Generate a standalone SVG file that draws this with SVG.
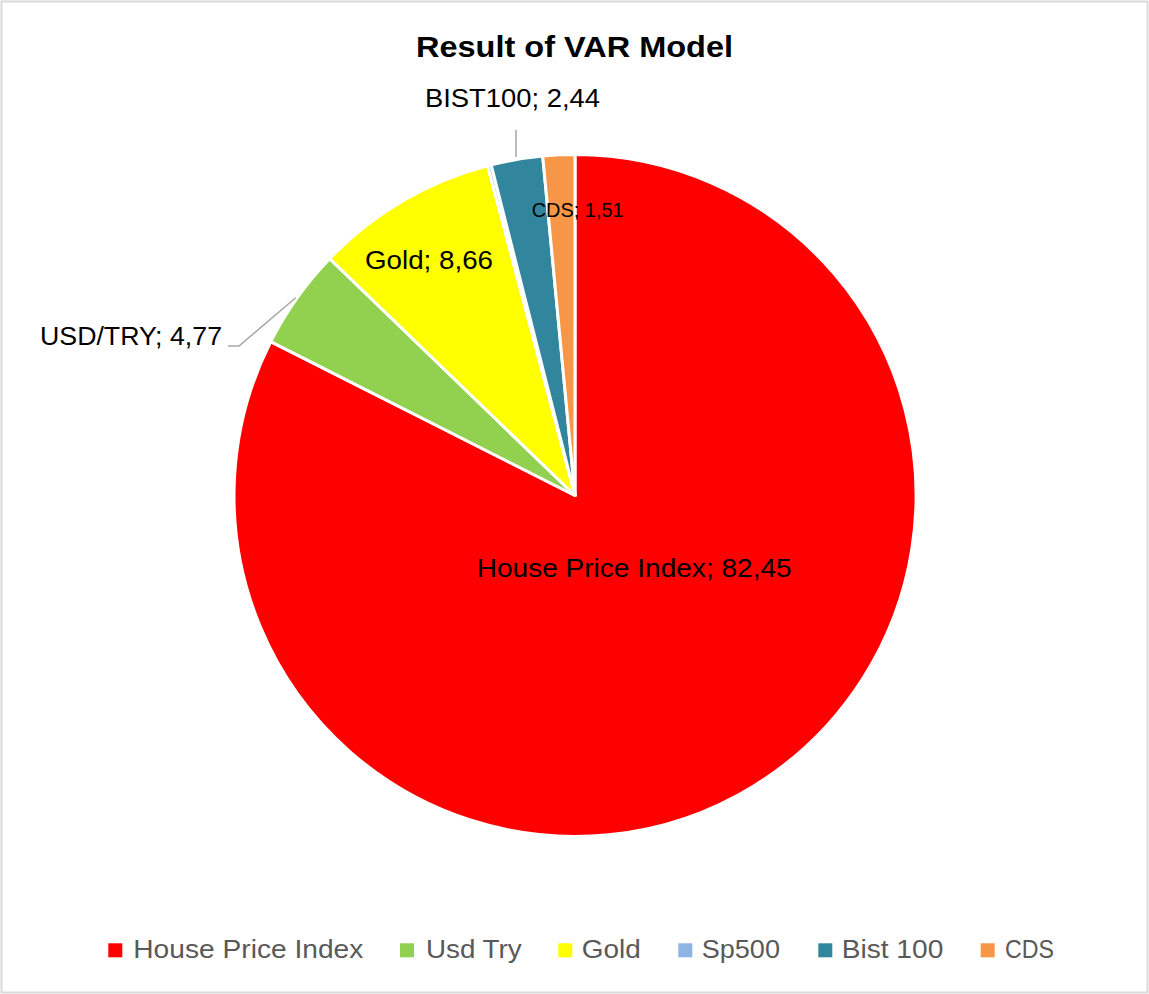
<svg xmlns="http://www.w3.org/2000/svg" width="1149" height="994" viewBox="0 0 1149 994">
<style>
.slice{stroke:#ffffff;stroke-width:3;stroke-linejoin:round}
.lbl{font-family:"Liberation Sans",Arial,sans-serif;fill:#000000}
.leg{font-family:"Liberation Sans",Arial,sans-serif;fill:#595959;font-size:25px}
.lead{stroke:#a6a6a6;stroke-width:1.5;fill:none}
</style>
<rect x="0" y="0" width="1149" height="994" fill="#ffffff"/>
<rect x="1.5" y="1.5" width="1146" height="991" fill="none" stroke="#d9d9d9" stroke-width="2"/>
<text id="title" class="lbl" x="574.5" y="56.7" font-size="30" font-weight="bold" text-anchor="middle" textLength="317" lengthAdjust="spacingAndGlyphs">Result of VAR Model</text>
<g id="pie">
<g id="slice-hpi"><path class="slice" fill="#ff0000" d="M575,495.5 L575,154.5 A341,341 0 1 1 270.7,341.7 Z"/></g>
<g id="slice-usd"><path class="slice" fill="#92d050" d="M575,495.5 L270.7,341.7 A341,341 0 0 1 329.7,258.6 Z"/></g>
<g id="slice-gold"><path class="slice" fill="#ffff00" d="M575,495.5 L329.7,258.6 A341,341 0 0 1 487.7,165.9 Z"/></g>
<g id="slice-sp500"><path class="slice" fill="#8db4e2" d="M575,495.5 L487.7,165.9 A341,341 0 0 1 491.2,164.9 Z"/></g>
<g id="slice-bist"><path class="slice" fill="#31859c" d="M575,495.5 L491.2,164.9 A341,341 0 0 1 542.7,156.0 Z"/></g>
<g id="slice-cds"><path class="slice" fill="#f79646" d="M575,495.5 L542.7,156.0 A341,341 0 0 1 575,154.5 Z"/></g>
</g>
<g id="connectors">
<path class="lead" d="M228,346 L239,346 L295.7,297.7"/>
<path class="lead" d="M516,130 L516,157"/>
</g>
<g id="labels">
<text class="lbl" x="476.7" y="577.3" font-size="26" textLength="315" lengthAdjust="spacingAndGlyphs">House Price Index; 82,45</text>
<text class="lbl" x="40" y="345" font-size="26" textLength="182" lengthAdjust="spacingAndGlyphs">USD/TRY; 4,77</text>
<text class="lbl" x="365" y="269" font-size="26" textLength="128" lengthAdjust="spacingAndGlyphs">Gold; 8,66</text>
<text class="lbl" x="425" y="107.3" font-size="26" textLength="175" lengthAdjust="spacingAndGlyphs">BIST100; 2,44</text>
<text class="lbl" x="531.7" y="216.7" font-size="21" textLength="92" lengthAdjust="spacingAndGlyphs">CDS; 1,51</text>
</g>
<g id="legend">
<g id="leg-hpi"><rect x="108.3" y="943.3" width="14" height="14" fill="#ff0000"/><text class="leg" x="133.3" y="958.3" textLength="230" lengthAdjust="spacingAndGlyphs">House Price Index</text></g>
<g id="leg-usd"><rect x="400" y="943.3" width="14" height="14" fill="#92d050"/><text class="leg" x="426" y="958.3" textLength="95.7" lengthAdjust="spacingAndGlyphs">Usd Try</text></g>
<g id="leg-gold"><rect x="558.3" y="943.3" width="14" height="14" fill="#ffff00"/><text class="leg" x="581.7" y="958.3" textLength="59" lengthAdjust="spacingAndGlyphs">Gold</text></g>
<g id="leg-sp500"><rect x="678.3" y="943.3" width="14" height="14" fill="#8db4e2"/><text class="leg" x="701.7" y="958.3" textLength="78.3" lengthAdjust="spacingAndGlyphs">Sp500</text></g>
<g id="leg-bist"><rect x="818.3" y="943.3" width="14" height="14" fill="#31859c"/><text class="leg" x="841.7" y="958.3" textLength="101.6" lengthAdjust="spacingAndGlyphs">Bist 100</text></g>
<g id="leg-cds"><rect x="980.7" y="943.3" width="14" height="14" fill="#f79646"/><text class="leg" x="1005" y="958.3" textLength="49" lengthAdjust="spacingAndGlyphs">CDS</text></g>
</g>
</svg>
